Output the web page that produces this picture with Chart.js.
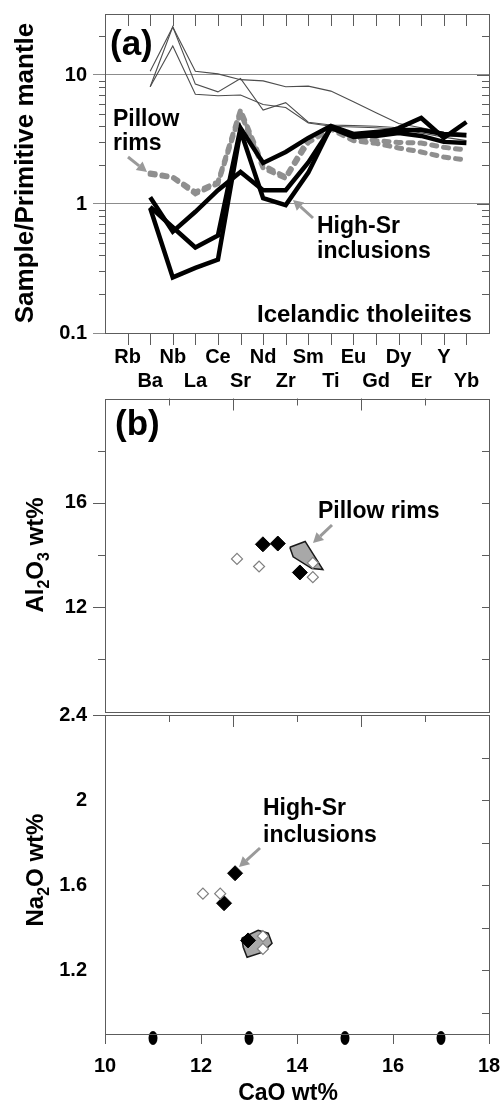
<!DOCTYPE html>
<html>
<head>
<meta charset="utf-8">
<title>High-Sr inclusions vs pillow rims</title>
<script src="https://cdn.jsdelivr.net/npm/chart.js@4.4.1/dist/chart.umd.min.js"></script>
<style>
  html, body { margin: 0; padding: 0; background: #fff; }
  #figure { position: relative; width: 503px; height: 1104px; }
  #figure canvas { position: absolute; left: 0; }
</style>
</head>
<body>
<div id="figure">
  <canvas id="spider" width="503" height="400" style="top:0px"></canvas>
  <canvas id="alumina" width="503" height="330" style="top:390px"></canvas>
  <canvas id="soda" width="503" height="404" style="top:700px"></canvas>
</div>
<script>
// (a) primitive-mantle normalised trace elements
const elements = ['Rb', 'Ba', 'Nb', 'La', 'Ce', 'Sr', 'Nd', 'Zr', 'Sm', 'Ti', 'Eu', 'Gd', 'Dy', 'Er', 'Y', 'Yb'];

// thin lines - Icelandic tholeiites
const tholeiiteA = [null, 10.7, 23.6, 10.7, 10.2, 9.2, 9.0, 8.1, 8.2, 7.5, 6.2, 5.1, 4.2, 3.9, 3.6, 3.5];
const tholeiiteB = [null, 8.1, 23.6, 8.5, 7.4, 9.4, 5.35, 6.1, 4.3, 4.1, 4.05, 4.0, 3.9, 3.7, 3.4, 3.3];
const tholeiiteC = [null, 8.1, 16.8, 7.1, 6.9, 7.0, 5.9, 5.6, 4.25, 4.0, 3.95, 3.9, 3.8, 3.55, 3.3, 3.1];

// dashed grey - pillow rims
const pillowRimA = [null, 1.74, 1.62, 1.24, 1.48, 5.35, 2.0, 1.62, 3.2, 3.9, 3.3, 3.1, 3.0, 2.97, 2.75, 2.62];
const pillowRimB = [null, 1.7, 1.6, 1.2, 1.44, 5.1, 1.9, 1.58, 3.0, 3.8, 3.1, 2.95, 2.72, 2.53, 2.31, 2.19];

// heavy black - high-Sr inclusions
const inclusionA = [null, 1.13, 0.61, 0.87, 1.28, 1.77, 1.28, 1.28, 2.1, 3.88, 3.31, 3.43, 3.88, 4.64, 3.25, 4.32];
const inclusionB = [null, 0.95, 0.66, 0.46, 0.57, 3.88, 2.08, 2.53, 3.25, 4.02, 3.49, 3.61, 3.75, 3.75, 3.49, 3.43];
const inclusionC = [null, 0.93, 0.27, 0.32, 0.37, 3.7, 1.11, 0.98, 1.75, 3.95, 3.43, 3.37, 3.55, 3.37, 3.03, 2.97];

const logLabels = [0.1, 1, 10];
const logMinor = [0.2, 0.3, 0.4, 0.5, 0.6, 0.7, 0.8, 0.9, 2, 3, 4, 5, 6, 7, 8, 9, 20];

// (b) major oxides vs CaO
const highSrCaO_Al = [13.29, 13.60, 14.06];
const highSrAl = [14.41, 14.44, 13.33];
const otherCaO_Al = [12.75, 13.21, 14.33, 14.33];
const otherAl = [13.85, 13.56, 13.70, 13.15];
const rimFieldCaO_Al = [13.85, 14.17, 14.54, 14.31, 13.92];
const rimFieldAl = [14.30, 14.52, 13.44, 13.48, 13.93];

const highSrCaO_Na = [12.71, 12.48, 12.98];
const highSrNa = [1.656, 1.515, 1.34];
const otherCaO_Na = [12.04, 12.40, 13.29, 13.29];
const otherNa = [1.56, 1.56, 1.36, 1.30];
const rimFieldCaO_Na = [12.85, 13.19, 13.40, 13.48, 13.29, 12.96, 12.88];
const rimFieldNa = [1.351, 1.388, 1.374, 1.327, 1.285, 1.261, 1.308];

const axisDotsCaO = [11, 13, 15, 17];

const alTicks = [8, 10, 12, 14, 16, 18, 20];
const alLabels = [12, 16];
const alMinor = [10, 14, 18];
const naTicks = [1.0, 1.2, 1.4, 1.6, 1.8, 2.0, 2.2];
const naLabels = [1.2, 1.6, 2, 2.4];
const caoTicks = [10, 12, 14, 16, 18];
const caoTopMajor = [12.667, 15.333];
const caoTopMinor = [11.333, 14, 16.667];

const family = '"Liberation Sans", Arial, Helvetica, sans-serif';
Chart.defaults.font.family = family;
Chart.defaults.font.weight = 'bold';
Chart.defaults.color = '#000';

const FRAME = '#5c5c5c';
const tickFont = { size: 20, weight: 'bold', lineHeight: 1.2 };

// tick marks and the box round the plot area
const axisMarks = {
    id: 'axisMarks',
    afterDatasetsDraw(chart, args, opts) {
        const ctx = chart.ctx, a = chart.chartArea;
        ctx.save();
        ctx.strokeStyle = FRAME;
        ctx.lineWidth = 1;
        (opts.marks || []).forEach(m => {
            const scale = chart.scales[m.axis];
            m.values.forEach(v => {
                const p = Math.round(scale.getPixelForValue(v)) + 0.5;
                ctx.beginPath();
                if (m.edge === 'top') { ctx.moveTo(p, a.top); ctx.lineTo(p, a.top + m.len); }
                if (m.edge === 'bottom') { ctx.moveTo(p, a.bottom); ctx.lineTo(p, a.bottom - m.len); }
                if (m.edge === 'left') { ctx.moveTo(a.left, p); ctx.lineTo(a.left + m.len, p); }
                if (m.edge === 'right') { ctx.moveTo(a.right, p); ctx.lineTo(a.right - m.len, p); }
                ctx.stroke();
            });
        });
        ctx.strokeRect(Math.round(a.left) + 0.5, Math.round(a.top) + 0.5,
            Math.round(a.right - a.left), Math.round(a.bottom - a.top));
        ctx.restore();
    }
};

function drawArrow(ctx, x1, y1, x2, y2) {
    const ang = Math.atan2(y2 - y1, x2 - x1), head = 10, half = 5.5;
    const bx = x2 - head * Math.cos(ang), by = y2 - head * Math.sin(ang);
    ctx.strokeStyle = ctx.fillStyle = '#9a9a9a';
    ctx.lineWidth = 3;
    ctx.beginPath(); ctx.moveTo(x1, y1); ctx.lineTo(bx, by); ctx.stroke();
    ctx.beginPath();
    ctx.moveTo(x2, y2);
    ctx.lineTo(bx + half * Math.sin(ang), by - half * Math.cos(ang));
    ctx.lineTo(bx - half * Math.sin(ang), by + half * Math.cos(ang));
    ctx.closePath();
    ctx.fill();
}

// vertical axis title, runs flagged 1 are subscripts
function drawRotated(ctx, t, dy) {
    const sub = Math.round(t.size * 0.66);
    const fontOf = r => `bold ${r[1] ? sub : t.size}px ${family}`;
    let width = 0;
    t.runs.forEach(r => { ctx.font = fontOf(r); width += ctx.measureText(r[0]).width; });
    ctx.save();
    ctx.translate(t.x, t.y - dy);
    ctx.rotate(-Math.PI / 2);
    ctx.textAlign = 'left';
    let x = -width / 2;
    t.runs.forEach(r => {
        ctx.font = fontOf(r);
        ctx.fillText(r[0], x, r[1] ? t.size * 0.24 : 0);
        x += ctx.measureText(r[0]).width;
    });
    ctx.restore();
}

// labels, arrows and axis titles given in page pixels
const notes = {
    id: 'notes',
    afterDraw(chart, args, opts) {
        const ctx = chart.ctx, dy = opts.top || 0;
        ctx.save();
        ctx.fillStyle = '#000';
        ctx.textBaseline = 'alphabetic';
        (opts.labels || []).forEach(l => {
            ctx.font = `bold ${l.size}px ${family}`;
            ctx.textAlign = l.align || 'left';
            ctx.fillText(l.text, l.x, l.y - dy);
        });
        (opts.titles || []).forEach(t => drawRotated(ctx, t, dy));
        (opts.arrows || []).forEach(a => drawArrow(ctx, a[0], a[1] - dy, a[2], a[3] - dy));
        ctx.restore();
    }
};

function noPadding(s) {
    s.paddingTop = s.paddingBottom = s.paddingLeft = s.paddingRight = 0;
}

function spiderSet(values, style) {
    return Object.assign({
        data: values.map((v, i) => ({ x: i, y: v })),
        pointRadius: 0,
        fill: false,
        tension: 0
    }, style);
}

const thinStyle = { borderColor: '#4d4d4d', borderWidth: 1.1, order: 2 };
const rimStyle = { borderColor: '#8f8f8f', borderWidth: 5, borderDash: [5, 7], borderCapStyle: 'round', order: 1 };
const inclStyle = { borderColor: '#000', borderWidth: 4.5, borderJoinStyle: 'miter', order: 0 };

new Chart(document.getElementById('spider'), {
    type: 'line',
    data: {
        datasets: [
            spiderSet(tholeiiteA, thinStyle),
            spiderSet(tholeiiteB, thinStyle),
            spiderSet(tholeiiteC, thinStyle),
            spiderSet(pillowRimA, rimStyle),
            spiderSet(pillowRimB, rimStyle),
            spiderSet(inclusionA, inclStyle),
            spiderSet(inclusionB, inclStyle),
            spiderSet(inclusionC, inclStyle)
        ]
    },
    options: {
        responsive: false,
        animation: false,
        devicePixelRatio: 1,
        layout: { padding: { top: 14, right: 14, left: 0, bottom: 0 } },
        plugins: {
            legend: { display: false },
            tooltip: { enabled: false },
            axisMarks: {
                marks: [
                    { axis: 'x', edge: 'top', values: elements.map((e, i) => i), len: 12 },
                    { axis: 'x', edge: 'bottom', values: elements.map((e, i) => i), len: -12 },
                    { axis: 'y', edge: 'right', values: logMinor, len: 7 },
                    { axis: 'y', edge: 'right', values: logLabels, len: 12 },
                    { axis: 'y', edge: 'left', values: logMinor, len: -6 }
                ]
            },
            notes: {
                top: 0,
                labels: [
                    { text: '(a)', x: 110, y: 55, size: 35 },
                    { text: 'Pillow', x: 113, y: 126, size: 23 },
                    { text: 'rims', x: 113, y: 150, size: 23 },
                    { text: 'High-Sr', x: 317, y: 233, size: 23 },
                    { text: 'inclusions', x: 317, y: 258, size: 23 },
                    { text: 'Icelandic tholeiites', x: 257, y: 322, size: 24 }
                ],
                titles: [{ runs: [['Sample/Primitive mantle']], x: 33, y: 173, size: 26 }],
                arrows: [[128, 157, 147, 172], [313, 218, 293, 200]]
            }
        },
        scales: {
            x: {
                type: 'linear',
                min: -1,
                max: 16,
                afterBuildTicks: s => { s.ticks = elements.map((e, i) => ({ value: i })); },
                afterFit: s => { s.height = 67; noPadding(s); },
                grid: { display: false, drawTicks: false },
                border: { display: false },
                ticks: {
                    autoSkip: false,
                    maxRotation: 0,
                    padding: 12,
                    font: tickFont,
                    callback: v => (v % 2 === 0 ? [elements[v], ''] : ['', elements[v]])
                }
            },
            y: {
                type: 'logarithmic',
                min: 0.1,
                max: 29.7,
                afterBuildTicks: s => { s.ticks = logLabels.map(v => ({ value: v })); },
                afterFit: s => { s.width = 105; noPadding(s); },
                grid: { color: '#8c8c8c', tickColor: '#8c8c8c', tickLength: 12 },
                border: { display: false },
                ticks: { padding: 6, font: tickFont, callback: v => String(v) }
            }
        }
    },
    plugins: [axisMarks, notes]
});

function points(xs, ys) {
    return xs.map((x, i) => ({ x: x, y: ys[i] }));
}

function closed(xs, ys) {
    const p = points(xs, ys);
    return p.concat([p[0]]);
}

function fieldSet(xs, ys) {
    return {
        data: closed(xs, ys),
        showLine: true,
        fill: 'shape',
        backgroundColor: '#a8a8a8',
        borderColor: '#1a1a1a',
        borderWidth: 1.5,
        pointRadius: 0,
        order: 2
    };
}

function highSrSet(xs, ys) {
    return {
        data: points(xs, ys),
        pointStyle: 'rectRot',
        pointRadius: 7.5,
        backgroundColor: '#000',
        borderColor: '#000',
        borderWidth: 1,
        order: 1
    };
}

function otherSet(xs, ys) {
    return {
        data: points(xs, ys),
        pointStyle: 'rectRot',
        pointRadius: 5.5,
        backgroundColor: '#fff',
        borderColor: '#808080',
        borderWidth: 1.2,
        order: 0
    };
}

function axisDot() {
    const c = document.createElement('canvas');
    c.width = 10;
    c.height = 22;
    const g = c.getContext('2d');
    g.fillStyle = '#000';
    g.beginPath();
    g.ellipse(5, 15, 4.5, 7, 0, 0, Math.PI * 2);
    g.fill();
    return c;
}

const caoTopMarks = [
    { axis: 'x', edge: 'top', values: caoTopMinor, len: 7 },
    { axis: 'x', edge: 'top', values: caoTopMajor, len: 12 }
];

new Chart(document.getElementById('alumina'), {
    type: 'scatter',
    data: {
        datasets: [
            fieldSet(rimFieldCaO_Al, rimFieldAl),
            highSrSet(highSrCaO_Al, highSrAl),
            otherSet(otherCaO_Al, otherAl)
        ]
    },
    options: {
        responsive: false,
        animation: false,
        devicePixelRatio: 1,
        layout: { padding: { top: 6, right: 14, left: 0, bottom: 5 } },
        plugins: {
            legend: { display: false },
            tooltip: { enabled: false },
            axisMarks: {
                marks: caoTopMarks.concat([
                    { axis: 'y', edge: 'right', values: alTicks, len: 7 },
                    { axis: 'y', edge: 'left', values: alLabels, len: -12 },
                    { axis: 'y', edge: 'left', values: alMinor, len: -7 }
                ])
            },
            notes: {
                top: 390,
                labels: [
                    { text: '(b)', x: 115, y: 435, size: 35 },
                    { text: 'Pillow rims', x: 318, y: 518, size: 23 }
                ],
                titles: [{ runs: [['Al'], ['2', 1], ['O'], ['3', 1], [' wt%']], x: 43, y: 555, size: 24 }],
                arrows: [[332, 525, 313, 543]]
            }
        },
        scales: {
            x: { type: 'linear', min: 10, max: 18, display: false },
            y: {
                type: 'linear',
                min: 8,
                max: 20,
                afterBuildTicks: s => { s.ticks = alLabels.map(v => ({ value: v })); },
                afterFit: s => { s.width = 105; noPadding(s); },
                grid: { display: false, drawTicks: false },
                border: { display: false },
                ticks: { padding: 18, font: tickFont, callback: v => String(v) }
            }
        }
    },
    plugins: [axisMarks, notes]
});

new Chart(document.getElementById('soda'), {
    type: 'scatter',
    data: {
        datasets: [
            fieldSet(rimFieldCaO_Na, rimFieldNa),
            highSrSet(highSrCaO_Na, highSrNa),
            otherSet(otherCaO_Na, otherNa),
            {
                data: axisDotsCaO.map(x => ({ x: x, y: 0.9 })),
                pointStyle: axisDot(),
                clip: false,
                order: 3
            }
        ]
    },
    options: {
        responsive: false,
        animation: false,
        devicePixelRatio: 1,
        layout: { padding: { top: 15, right: 14, left: 0, bottom: 0 } },
        plugins: {
            legend: { display: false },
            tooltip: { enabled: false },
            axisMarks: {
                marks: caoTopMarks.concat([
                    { axis: 'y', edge: 'right', values: naTicks, len: 7 },
                    { axis: 'y', edge: 'left', values: [2.4], len: -12 },
                    { axis: 'x', edge: 'bottom', values: caoTicks, len: -10 }
                ])
            },
            notes: {
                top: 700,
                labels: [
                    { text: 'High-Sr', x: 263, y: 815, size: 23 },
                    { text: 'inclusions', x: 263, y: 842, size: 23 },
                    { text: 'CaO wt%', x: 288, y: 1100, size: 23, align: 'center' }
                ],
                titles: [{ runs: [['Na'], ['2', 1], ['O wt%']], x: 43, y: 870, size: 24 }],
                arrows: [[260, 848, 239, 867]]
            }
        },
        scales: {
            x: {
                type: 'linear',
                min: 10,
                max: 18,
                afterBuildTicks: s => { s.ticks = caoTicks.map(v => ({ value: v })); },
                afterFit: s => { s.height = 70; noPadding(s); },
                grid: { display: false, drawTicks: false },
                border: { display: false },
                ticks: { padding: 20, font: tickFont, maxRotation: 0, callback: v => String(v) }
            },
            y: {
                type: 'linear',
                min: 0.9,
                max: 2.4,
                afterBuildTicks: s => { s.ticks = naLabels.map(v => ({ value: v })); },
                afterFit: s => { s.width = 105; noPadding(s); },
                grid: { display: false, drawTicks: false },
                border: { display: false },
                ticks: { padding: 18, font: tickFont, callback: v => String(v) }
            }
        }
    },
    plugins: [axisMarks, notes]
});
</script>
</body>
</html>
